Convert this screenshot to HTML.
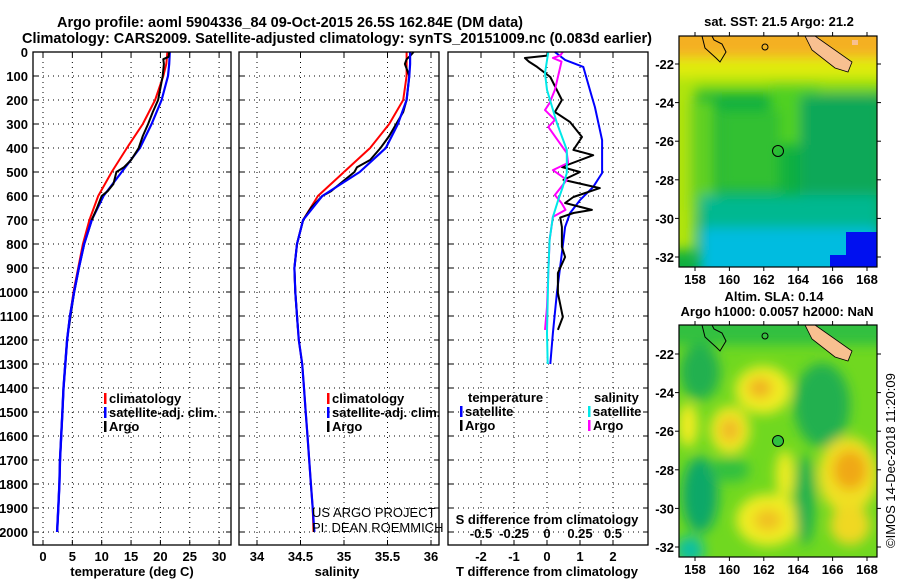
<!DOCTYPE html>
<html><head><meta charset="utf-8">
<style>
html,body{margin:0;padding:0;background:#fff;}
svg{display:block;font-family:"Liberation Sans",Arial,sans-serif;}
.t{font-weight:bold;font-size:15px;}
.tk{font-weight:bold;font-size:13px;}
</style></head>
<body>
<svg id="chart" width="900" height="580" viewBox="0 0 900 580" xmlns="http://www.w3.org/2000/svg">
<defs>
<filter id="blur1" x="-20%" y="-20%" width="140%" height="140%"><feGaussianBlur stdDeviation="6"/></filter>
<filter id="blur2" x="-20%" y="-20%" width="140%" height="140%"><feGaussianBlur stdDeviation="6"/></filter>
<clipPath id="clipm1"><rect x="679" y="36" width="198" height="231"/></clipPath>
<clipPath id="clipm2"><rect x="679" y="325" width="198" height="232"/></clipPath>
</defs>
<text class="t" x="57" y="27" textLength="466" lengthAdjust="spacingAndGlyphs">Argo profile: aoml 5904336_84 09-Oct-2015 26.5S 162.84E (DM data)</text>
<text class="t" x="22" y="43" textLength="630" lengthAdjust="spacingAndGlyphs">Climatology: CARS2009. Satellite-adjusted climatology: synTS_20151009.nc (0.083d earlier)</text>

<!-- map 1 -->
<g>
<text class="tk" x="779" y="26" text-anchor="middle">sat. SST: 21.5 Argo: 21.2</text>
<g clip-path="url(#clipm1)">
<rect x="679" y="36" width="198" height="231" fill="#10b040"/>
<g filter="url(#blur1)">
<rect x="660" y="20" width="240" height="40" fill="#f4b020"/>
<rect x="660" y="58" width="240" height="22" fill="#e0ec10"/>
<rect x="660" y="78" width="240" height="14" fill="#98e010"/>
<rect x="660" y="80" width="35" height="170" fill="#b0e410"/>
<rect x="690" y="100" width="25" height="110" fill="#60d020"/>
<rect x="770" y="85" width="50" height="60" fill="#50d020"/>
<rect x="720" y="110" width="60" height="80" fill="#30c030"/>
<rect x="800" y="95" width="80" height="110" fill="#10a858"/>
<rect x="700" y="195" width="180" height="40" fill="#00b890"/>
<rect x="700" y="228" width="180" height="50" fill="#00bce0"/>
</g>
<rect x="846" y="232" width="31" height="40" fill="#0010f0"/>
<rect x="830" y="255" width="20" height="15" fill="#0010f0"/>
<path d="M805,36 L815,36 L852,62 L848,72 L835,68 L812,50 Z" fill="#f8c090" stroke="#000" stroke-width="0.8"/>
<path d="M702,36 L705,48 L716,58 L720,62 L726,52 L722,44 L714,40 L712,36" fill="none" stroke="#000" stroke-width="1"/>
<circle cx="765" cy="47" r="3" fill="none" stroke="#000" stroke-width="1"/>
<rect x="852" y="40" width="6" height="5" fill="#f8c090"/>
</g>
<circle cx="778" cy="151" r="5.5" fill="none" stroke="#000" stroke-width="1"/>
<rect x="679" y="36" width="198" height="231" fill="none" stroke="#000" stroke-width="1.2"/>
<g id="m1ticks"></g>
</g>

<!-- map 2 -->
<g>
<text class="tk" x="774" y="301" text-anchor="middle">Altim. SLA: 0.14</text>
<text class="tk" x="777" y="316" text-anchor="middle">Argo h1000: 0.0057 h2000: NaN</text>
<g clip-path="url(#clipm2)">
<rect x="679" y="325" width="198" height="232" fill="#70d820"/>
<g filter="url(#blur2)">
<rect x="660" y="310" width="240" height="35" fill="#30c040"/>
<ellipse cx="700" cy="372" rx="20" ry="28" fill="#20b050"/>
<ellipse cx="763" cy="390" rx="28" ry="24" fill="#f0ec20"/>
<ellipse cx="760" cy="388" rx="12" ry="10" fill="#f0b020"/>
<ellipse cx="730" cy="430" rx="20" ry="24" fill="#f0e820"/>
<ellipse cx="730" cy="430" rx="10" ry="12" fill="#f0b828"/>
<ellipse cx="688" cy="425" rx="10" ry="22" fill="#f0ec20"/>
<ellipse cx="822" cy="405" rx="28" ry="42" fill="#20b050"/>
<ellipse cx="700" cy="495" rx="18" ry="38" fill="#10a868"/>
<ellipse cx="730" cy="470" rx="20" ry="12" fill="#30c040"/>
<ellipse cx="848" cy="475" rx="30" ry="38" fill="#f0e020"/>
<ellipse cx="850" cy="470" rx="17" ry="20" fill="#f0a818"/>
<ellipse cx="768" cy="520" rx="32" ry="26" fill="#f0ec20"/>
<ellipse cx="768" cy="520" rx="14" ry="11" fill="#f0c020"/>
<ellipse cx="850" cy="525" rx="20" ry="20" fill="#f0d820"/>
<ellipse cx="805" cy="500" rx="10" ry="45" fill="#20b050"/>
<ellipse cx="785" cy="475" rx="9" ry="25" fill="#f0ec20"/>
<ellipse cx="690" cy="550" rx="14" ry="14" fill="#10c0a0"/>
</g>
<path d="M805,325 L815,325 L852,351 L848,361 L835,357 L812,339 Z" fill="#f8c090" stroke="#000" stroke-width="0.8"/>
<path d="M702,325 L705,337 L716,347 L720,351 L726,341 L722,333 L714,329 L712,325" fill="none" stroke="#000" stroke-width="1"/>
<circle cx="765" cy="336" r="3" fill="none" stroke="#000" stroke-width="1"/>
</g>
<circle cx="778" cy="441" r="5.5" fill="#30c040" stroke="#000" stroke-width="1"/>
<rect x="679" y="325" width="198" height="232" fill="none" stroke="#000" stroke-width="1.2"/>
<g id="m2ticks"></g>
</g>
<text x="895" y="548" transform="rotate(-90 895 548)" font-size="13" fill="#000">©IMOS 14-Dec-2018 11:20:09</text>

<g id="panels"></g>
</svg>
<script>
const NS='http://www.w3.org/2000/svg';
const svg=document.getElementById('chart');
const panels=document.getElementById('panels');
function mk(tag,attrs,parent){const e=document.createElementNS(NS,tag);for(const k in attrs)e.setAttribute(k,attrs[k]);(parent||panels).appendChild(e);return e;}

// ---- data ----
const depthTicks=[0,100,200,300,400,500,600,700,800,900,1000,1100,1200,1300,1400,1500,1600,1700,1800,1900,2000];
const tempTicks=[0,5,10,15,20,25,30];
const salTicks=[34,34.5,35,35.5,36];
const salTickLabels=['34','34.5','35','35.5','36'];
const diffTicks=[-2,-1,0,1,2];
const sdiffTickLabels=['-0.5','-0.25','0','0.25','0.5'];

const climDepth=[0,50,100,200,300,400,500,600,700,800,900,1000,1100,1200,1300,1400,1500,1600,1700,1800,1900,2000];
const climTemp=[21.2,21.0,20.5,19.1,17.0,14.3,11.7,9.4,7.9,6.8,6.0,5.2,4.6,4.1,3.8,3.5,3.3,3.1,2.9,2.8,2.6,2.4];
const satTemp=[21.6,21.5,21.3,20.2,18.5,16.5,13.4,10.3,8.3,7.0,6.1,5.3,4.6,4.1,3.8,3.5,3.3,3.1,2.9,2.8,2.6,2.4];
const climSal=[35.72,35.72,35.72,35.68,35.52,35.3,35.0,34.7,34.53,34.46,34.43,34.44,34.46,34.48,34.52,34.54,34.56,34.58,34.6,34.62,34.64,34.65];
const satSal=[35.76,35.76,35.75,35.72,35.62,35.48,35.18,34.75,34.53,34.46,34.43,34.44,34.46,34.48,34.52,34.54,34.56,34.58,34.6,34.62,34.64,34.66];

const argoDepth=[0,20,30,50,100,200,250,300,350,400,450,480,500,550,580,600,650,700,800,900,1000,1100,1150];
const argoTemp=[21.5,21.4,20.5,20.6,20.4,19.6,18.7,17.9,17.0,16.3,15.0,13.8,12.5,12.0,11.0,10.0,9.2,8.3,7.0,6.1,5.3,4.7,4.4];
const argoSal=[35.8,35.75,35.72,35.7,35.75,35.72,35.68,35.6,35.52,35.42,35.3,35.15,35.12,34.95,34.85,34.75,34.62,34.53,34.46,34.43,34.44,34.46,34.47];

const dTsatDepth=[0,33,62,187,229,367,504,562,617,671,729,837,1004,1171,1300];
const dTsat=[0.24,0.55,1.1,1.36,1.45,1.67,1.67,1.4,1.0,0.7,0.55,0.45,0.3,0.18,0.1];
const dTargoDepth=[0,15,25,40,62,104,200,250,292,354,408,430,479,500,533,567,604,629,658,671,690,729,812,854,921,1004,1104,1158];
const dTargo=[0.03,0.0,-0.67,-0.55,-0.3,0.1,0.45,0.24,0.7,1.06,0.8,1.4,0.45,1.0,0.5,1.6,0.8,0.55,1.36,0.8,0.4,0.45,0.45,0.55,0.33,0.33,0.48,0.33];
const dSargoDepth=[0,15,25,40,158,212,242,283,312,367,421,462,492,533,596,629,658,687,783,921,1062,1158];
const dSargo=[0.12,0.1,0.045,0.11,0.06,0.02,-0.015,0.06,0.01,0.08,0.15,0.16,0.045,0.15,0.06,0.11,0.14,0.045,0.02,0.01,0.0,-0.015];
const dSsatDepth=[0,88,158,296,408,504,562,617,687,783,921,1171,1300];
const dSsat=[0.01,-0.015,0.0,0.075,0.15,0.15,0.12,0.085,0.045,0.02,0.01,0.0,0.005];

const lonTicks=[158,160,162,164,166,168];
const latTicks=[-22,-24,-26,-28,-30,-32];

// ---- axes ----
const yTop=52,yBot=545;
const yS=d=>52+0.24*d;
const xT=t=>43+5.87*t;
const xS=s=>257+87*(s-34);
const xD=v=>547+33*v;
const xSD=v=>547+132*v;

function frame(x0,x1,name){
  mk('rect',{x:x0,y:yTop,width:x1-x0,height:yBot-yTop,fill:'none',stroke:'#000','stroke-width':1.3,});
}
function hgrid(x0,x1){
  depthTicks.forEach(d=>{
    const l=mk('line',{x1:x0,x2:x1,y1:yS(d),y2:yS(d),stroke:'#000','stroke-width':1,'stroke-dasharray':'1,4'});
    
    
    mk('line',{x1:x0,x2:x0+5,y1:yS(d),y2:yS(d),stroke:'#000'});
    mk('line',{x1:x1-5,x2:x1,y1:yS(d),y2:yS(d),stroke:'#000'});
  });
}
function vgrid(vals,fx){
  vals.forEach(v=>{
    const l=mk('line',{x1:fx(v),x2:fx(v),y1:yTop,y2:yBot,stroke:'#000','stroke-width':1,'stroke-dasharray':'1,4'});
    
    
    mk('line',{x1:fx(v),x2:fx(v),y1:yTop,y2:yTop+5,stroke:'#000'});
    mk('line',{x1:fx(v),x2:fx(v),y1:yBot-5,y2:yBot,stroke:'#000'});
  });
}
function line(xs,ds,fx,color,w,name){
  const pts=xs.map((v,i)=>fx(v).toFixed(1)+','+yS(ds[i]).toFixed(1)).join(' ');
  const p=mk('polyline',{points:pts,fill:'none',stroke:color,'stroke-width':w,'stroke-linejoin':'round'});
  
  
}
function txt(s,x,y,cls,anchor,name,color){
  const t=mk('text',{x:x,y:y,class:cls,'text-anchor':anchor||'middle',fill:color||'#000'});
  t.textContent=s;
  
  
  return t;
}

// panel 1 temperature
hgrid(33,231);vgrid(tempTicks,xT);
depthTicks.forEach(d=>txt(String(d),28,yS(d)+5,'tk','end','depth-tick-label'));
tempTicks.forEach(t=>txt(String(t),xT(t),561,'tk','middle','temp-tick-label'));
txt('temperature (deg C)',132,576,'tk','middle','temp-axis-title');
line(satTemp,climDepth,xT,'#0000ff',2.2,'temp-satellite-line');
line(climTemp,climDepth,xT,'#ff0000',2,'temp-climatology-line');
line(argoTemp,argoDepth,xT,'#000',2,'temp-argo-line');
line(satTemp.slice(8),climDepth.slice(8),xT,'#0000ff',2.4,'temp-satellite-line-deep');
frame(33,231,'temperature-panel');

// panel 2 salinity
hgrid(239,439);vgrid(salTicks,xS);
salTicks.forEach((s,i)=>txt(salTickLabels[i],xS(s),561,'tk','middle','sal-tick-label'));
txt('salinity',337,576,'tk','middle','sal-axis-title');
line(climSal,climDepth,xS,'#ff0000',2,'sal-climatology-line');
line(argoSal,argoDepth,xS,'#000',2,'sal-argo-line');
line(satSal,climDepth,xS,'#0000ff',2.2,'sal-satellite-line');
frame(239,439,'salinity-panel');
const c1=mk('text',{x:312,y:517,'font-size':13});c1.textContent='US ARGO PROJECT';

const c2=mk('text',{x:312,y:532,'font-size':13});c2.textContent='PI: DEAN ROEMMICH';


// panel 3 differences
hgrid(448,648);vgrid(diffTicks,xD);
diffTicks.forEach(v=>txt(String(v),xD(v),561,'tk','middle','tdiff-tick-label'));
diffTicks.forEach((v,i)=>txt(sdiffTickLabels[i],xD(v),538,'tk','middle','sdiff-tick-label'));
txt('S difference from climatology',547,524,'tk','middle','sdiff-axis-title');
txt('T difference from climatology',547,576,'tk','middle','tdiff-axis-title');
line(dTsat,dTsatDepth,xD,'#0000ff',2,'tdiff-satellite-line');
line(dTargo,dTargoDepth,xD,'#000',2,'tdiff-argo-line');
line(dSargo,dSargoDepth,xSD,'#ff00ff',2,'sdiff-argo-line');
line(dSsat,dSsatDepth,xSD,'#00e8e8',2,'sdiff-satellite-line');
frame(448,648,'difference-panel');

// legends
function legItem(x,y,color,label,name){
  const r=mk('rect',{x:x,y:y-10,width:2.5,height:11,fill:color});
  
  txt(label,x+5,y,'tk','start',name);
}
legItem(104,403,'#ff0000','climatology','legend-climatology');
legItem(104,417,'#0000ff','satellite-adj. clim.','legend-satellite');
legItem(104,431,'#000','Argo','legend-argo');
legItem(327,403,'#ff0000','climatology','legend-sal-climatology');
legItem(327,417,'#0000ff','satellite-adj. clim.','legend-sal-satellite');
legItem(327,431,'#000','Argo','legend-sal-argo');
txt('temperature',468,402,'tk','start','legend-temperature-heading');
legItem(460,416,'#0000ff','satellite','legend-tdiff-satellite');
legItem(460,430,'#000','Argo','legend-tdiff-argo');
txt('salinity',594,402,'tk','start','legend-salinity-heading');
legItem(588,416,'#00e8e8','satellite','legend-sdiff-satellite');
legItem(588,430,'#ff00ff','Argo','legend-sdiff-argo');

// map ticks
function mapTicks(gid,yTopM,yBotM,latY0){
  const g=document.getElementById(gid);
  const lx=l=>695+17.2*(l-158);
  const ly=l=>latY0+19.3*(-22-l);
  lonTicks.forEach(l=>{
    mk('line',{x1:lx(l),x2:lx(l),y1:yTopM,y2:yTopM-4,stroke:'#000'},g);
    mk('line',{x1:lx(l),x2:lx(l),y1:yBotM,y2:yBotM+4,stroke:'#000'},g);
    const t=mk('text',{x:lx(l),y:yBotM+17,class:'tk','text-anchor':'middle'},g);t.textContent=String(l);
    
  });
  latTicks.forEach(l=>{
    mk('line',{x1:675,x2:679,y1:ly(l),y2:ly(l),stroke:'#000'},g);
    mk('line',{x1:877,x2:881,y1:ly(l),y2:ly(l),stroke:'#000'},g);
    const t=mk('text',{x:674,y:ly(l)+5,class:'tk','text-anchor':'end'},g);t.textContent=String(l);
    
  });
}
mapTicks('m1ticks',36,267,64);
mapTicks('m2ticks',325,557,354);
</script>
</body></html>
